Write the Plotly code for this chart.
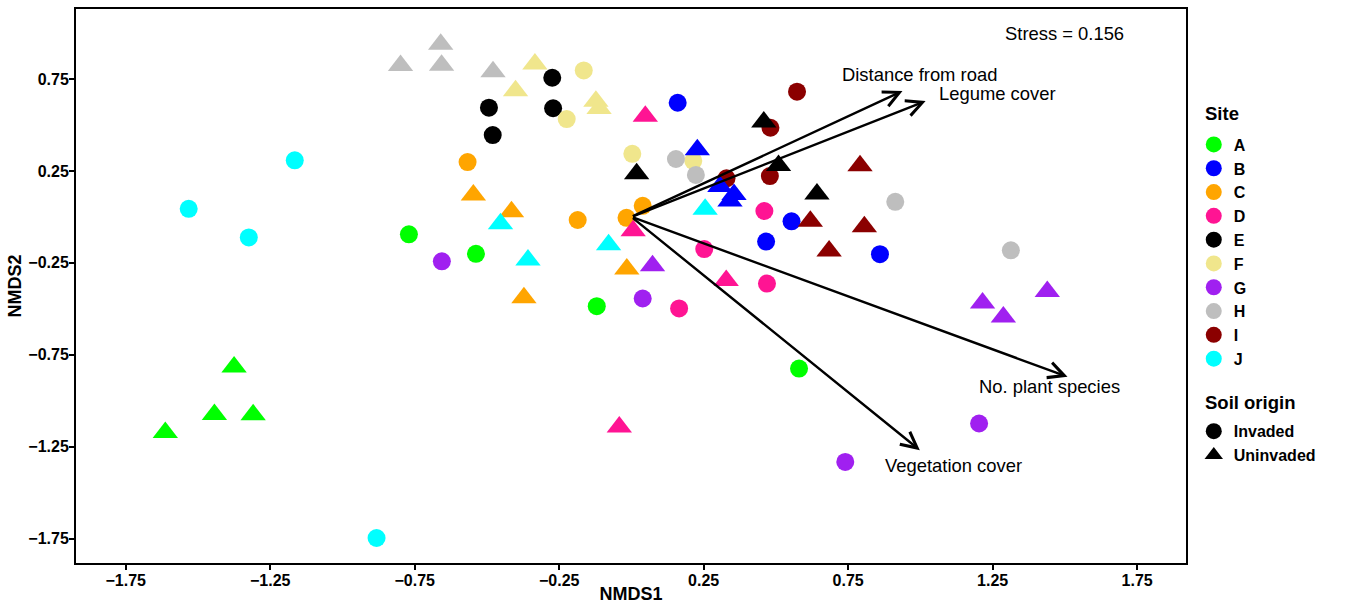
import plotly.graph_objects as go

# ---------------- data ----------------
sites = ['A', 'B', 'C', 'D', 'E', 'F', 'G', 'H', 'I', 'J']
site_colors = ['#00FF00', '#0000FF', '#FFA500', '#FF1493', '#000000',
               '#F0E68C', '#A020F0', '#BEBEBE', '#8B0000', '#00FFFF']
origins = ['Invaded', 'Uninvaded']

# one row per sample (site, soil origin, NMDS1, NMDS2)
sample_site = (['A'] * 8 + ['B'] * 8 + ['C'] * 8 + ['D'] * 8 + ['E'] * 8 +
               ['F'] * 8 + ['G'] * 8 + ['H'] * 8 + ['I'] * 8 + ['J'] * 8)
sample_origin = (['Invaded'] * 4 + ['Uninvaded'] * 4) * 10
nmds1 = [
    -0.770, -0.538, -0.120, 0.580, -1.375, -1.443, -1.309, -1.613,   # A
    0.160, 0.466, 0.554, 0.860, 0.228, 0.306, 0.355, 0.341,          # B
    -0.567, -0.186, -0.017, 0.039, -0.547, -0.415, -0.016, -0.372,   # C
    0.252, 0.165, 0.460, 0.469, 0.048, 0.006, 0.328, -0.042,         # D
    -0.274, -0.493, -0.271, -0.480, 0.018, 0.458, 0.509, 0.642,      # E
    -0.165, -0.224, 0.003, 0.214, -0.334, -0.401, -0.123, -0.112,    # F
    -0.656, 0.039, 1.203, 0.740, 0.073, 1.215, 1.287, 1.439,         # G
    0.154, 0.223, 0.913, 1.313, -0.660, -0.799, -0.657, -0.479,      # H
    0.573, 0.481, 0.479, 0.329, 0.791, 0.619, 0.806, 0.684,          # I
    -1.165, -1.532, -1.324, -0.882, -0.453, -0.358, -0.079, 0.255,   # J
]
nmds2 = [
    -0.095, -0.201, -0.486, -0.825, -0.816, -1.075, -1.077, -1.173,  # A
    0.621, -0.134, -0.024, -0.203, 0.365, 0.166, 0.122, 0.086,       # B
    0.298, -0.017, -0.005, 0.060, 0.119, 0.028, -0.284, -0.440,      # C
    -0.175, -0.498, 0.032, -0.363, 0.547, -0.076, -0.346, -1.143,    # D
    0.757, 0.594, 0.591, 0.445, 0.235, 0.516, 0.280, 0.124,          # E
    0.797, 0.532, 0.343, 0.305, 0.832, 0.686, 0.629, 0.590,          # F
    -0.242, -0.444, -1.124, -1.333, -0.266, -0.468, -0.544, -0.406,  # G
    0.315, 0.228, 0.082, -0.182, 0.939, 0.823, 0.825, 0.790,         # H
    0.681, 0.485, 0.222, 0.210, 0.278, -0.024, -0.054, -0.185,       # I
    0.308, 0.044, -0.112, -1.747, -0.038, -0.235, -0.152, 0.042,     # J
]

# fitted environmental vectors
env_vars = ['Distance from road', 'Legume cover', 'No. plant species', 'Vegetation cover']
env_nmds1 = [0.938, 1.018, 1.509, 0.998]
env_nmds2 = [0.685, 0.630, -0.870, -1.269]

stress_text = 'Stress = 0.156'

x_tickvals = [-1.75, -1.25, -0.75, -0.25, 0.25, 0.75, 1.25, 1.75]
y_tickvals = [-1.75, -1.25, -0.75, -0.25, 0.25, 0.75]

# ---------------- layout helpers (positions) ----------------
env_label_pos = [(0.997, 0.777), (1.268, 0.672), (1.447, -0.925), (1.116, -1.351)]
stress_pos = (1.497, 1.0)

FONT = 'Liberation Sans, Arial, Helvetica, sans-serif'
symbol_of = {'Invaded': 'circle', 'Uninvaded': 'triangle-up'}
size_of = {'Invaded': 18, 'Uninvaded': 22}

fig = go.Figure()

# circles first, then triangles (drawing order)
for origin in origins:
    for s, col in zip(sites, site_colors):
        xs = [x for x, ss, o in zip(nmds1, sample_site, sample_origin) if ss == s and o == origin]
        ys = [y for y, ss, o in zip(nmds2, sample_site, sample_origin) if ss == s and o == origin]
        fig.add_trace(go.Scatter(
            x=xs, y=ys, mode='markers', name=s,
            marker=dict(symbol=symbol_of[origin], size=size_of[origin], color=col,
                        line=dict(width=0)),
            showlegend=(origin == 'Invaded'), legend='legend',
            hoverinfo='skip'))

# soil origin legend entries
for origin in origins:
    fig.add_trace(go.Scatter(
        x=[None], y=[None], mode='markers', name=origin,
        marker=dict(symbol=symbol_of[origin], size=size_of[origin], color='black',
                    line=dict(width=0)),
        legend='legend2', showlegend=True))

annotations = []
for name, ex, ey, (lx, ly) in zip(env_vars, env_nmds1, env_nmds2, env_label_pos):
    annotations.append(dict(
        x=ex, y=ey, ax=0, ay=0, xref='x', yref='y', axref='x', ayref='y',
        text='', showarrow=True, arrowhead=5, arrowsize=1.3, arrowwidth=2.4,
        arrowcolor='black', standoff=0, startstandoff=0))
    annotations.append(dict(
        x=lx, y=ly, xref='x', yref='y', text=name, showarrow=False,
        font=dict(family=FONT, size=18.4, color='black')))
annotations.append(dict(
    x=stress_pos[0], y=stress_pos[1], xref='x', yref='y', text=stress_text,
    showarrow=False, font=dict(family=FONT, size=18.4, color='black')))
# legend titles
annotations.append(dict(
    x=1.0153, y=0.812, xref='paper', yref='paper', xanchor='left', yanchor='middle',
    text='Site', showarrow=False,
    font=dict(family=FONT, size=18.5, color='black', weight='bold')))
annotations.append(dict(
    x=1.0153, y=0.290, xref='paper', yref='paper', xanchor='left', yanchor='middle',
    text='Soil origin', showarrow=False,
    font=dict(family=FONT, size=18.5, color='black', weight='bold')))

axis_common = dict(
    showgrid=False, zeroline=False, showline=True, linecolor='black', linewidth=2,
    mirror=True, ticks='outside', ticklen=5, tickwidth=1.5, tickcolor='black',
    automargin=False,
    tickfont=dict(family=FONT, size=16, color='black', weight='bold'),
)

fig.update_layout(
    template='none',
    width=1354, height=604,
    margin=dict(l=76, r=168, t=9, b=41),
    paper_bgcolor='white', plot_bgcolor='white',
    font=dict(family=FONT, color='black'),
    xaxis=dict(range=[-1.922, 1.919], tickvals=x_tickvals, ticklabelstandoff=-3,
               title=dict(text='NMDS1', standoff=10,
                          font=dict(family=FONT, size=18, color='black', weight='bold')),
               **axis_common),
    yaxis=dict(range=[-1.883, 1.131], tickvals=y_tickvals, ticklabelstandoff=-3,
               title=dict(text='NMDS2', standoff=2,
                          font=dict(family=FONT, size=18, color='black', weight='bold')),
               **axis_common),
    legend=dict(x=1.007, y=0.786, xanchor='left', yanchor='top',
                font=dict(family=FONT, size=16, color='black', weight='bold'),
                bgcolor='rgba(0,0,0,0)', itemsizing='trace', tracegroupgap=0),
    legend2=dict(x=1.007, y=0.2685, xanchor='left', yanchor='top',
                 font=dict(family=FONT, size=16, color='black', weight='bold'),
                 bgcolor='rgba(0,0,0,0)', itemsizing='trace', tracegroupgap=0),
    annotations=annotations,
    showlegend=True,
)

fig.write_html('out.html', config={'displayModeBar': False},
               post_script="document.body.style.margin='0';")
